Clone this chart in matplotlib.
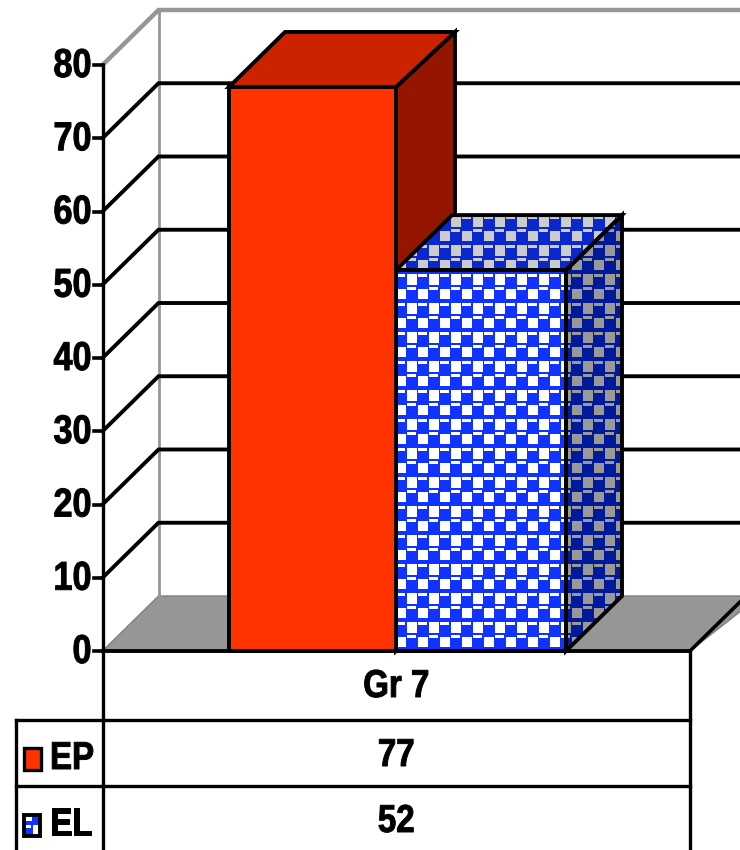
import numpy as np
import matplotlib
matplotlib.use('Agg')
import matplotlib.pyplot as plt
from matplotlib.colors import to_rgb
from matplotlib.patches import Polygon, Rectangle
from matplotlib.patheffects import AbstractPathEffect
from matplotlib.transforms import Affine2D

category = 'Gr 7'
series = ['EP', 'EL']
values = [77, 52]
yticks = [0, 10, 20, 30, 40, 50, 60, 70, 80]

RED = '#ff3300'
BLUE = '#1033ff'
FONT = 'Liberation Sans'

# chart is laid out in pixels, y values go through val_y
Y0, PX_PER_UNIT = 651, 7.325
DX, DY = 56, 55
AX_X = 102.5
BACK_X = AX_X + DX
FLOOR_R = 690

class Narrow(AbstractPathEffect):
    # squeeze text sideways around its anchor and thicken it, no narrow font is installed
    def __init__(self, x, sx=0.85, stroke=0.7):
        super().__init__()
        self.x = x
        self.sx = sx
        self.stroke = stroke

    def draw_path(self, renderer, gc, tpath, affine, rgbFace):
        squeeze = Affine2D().translate(-self.x, 0).scale(self.sx, 1).translate(self.x, 0)
        gc0 = renderer.new_gc()
        gc0.copy_properties(gc)
        gc0.set_linewidth(self.stroke)
        gc0.set_foreground('black')
        renderer.draw_path(gc0, tpath, affine + squeeze, rgbFace)
        gc0.restore()

def label(ax, x, y, s, ha, size=28):
    ax.text(x, y, s, ha=ha, va='center', fontsize=size, fontweight='bold', family=FONT,
            zorder=6, path_effects=[Narrow(x)])

def val_y(v):
    return Y0 - v * PX_PER_UNIT

def poly(ax, pts, fc, ec='black', lw=2.8, z=3):
    ax.add_patch(Polygon(pts, closed=True, fc=fc, ec=ec, lw=lw, joinstyle='miter', zorder=z))

def checker(fg, bg):
    # 22x29 pixel tile, same as the office-style "large checker" fill
    t = np.zeros((29, 22, 3))
    t[:] = to_rgb(fg)
    b = to_rgb(bg)
    t[2:13, 11:21] = b
    t[15:18, 11:20] = b
    t[17:27, 0:10] = b
    t[2:5, 0:9] = b
    t = np.roll(t, 11, axis=0)
    return np.tile(t, (34, 44, 1))

def pattern(ax, pts, fg, bg, z=3):
    p = Polygon(pts, closed=True, fc='none', ec='black', lw=2.8, joinstyle='miter', zorder=z + 0.1)
    ax.add_patch(p)
    arr = checker(fg, bg)
    im = ax.imshow(arr, extent=(0, arr.shape[1], arr.shape[0], 0), interpolation='nearest', zorder=z, aspect='auto')
    im.set_clip_path(p)

fig = plt.figure(figsize=(7.4, 8.5), dpi=100)
ax = fig.add_axes([0, 0, 1, 1])

# back wall, floor
top = val_y(80)
poly(ax, [(AX_X, Y0), (BACK_X, Y0 - DY), (760, Y0 - DY), (FLOOR_R, Y0)], '#969696', ec='#808080', lw=1, z=1)
ax.plot([BACK_X, BACK_X], [top - DY, Y0 - DY], color='#969696', lw=2, zorder=1)
ax.plot([AX_X, BACK_X, 740], [top, top - DY, top - DY], color='#969696', lw=3.2, zorder=1, solid_joinstyle='miter')

# gridlines
for v in yticks[1:-1]:
    y = val_y(v)
    ax.plot([AX_X, BACK_X, 740], [y, y - DY, y - DY], color='black', lw=2.8, zorder=2, solid_joinstyle='miter')

# y axis
ax.plot([AX_X, AX_X], [top, 850], color='black', lw=2.4, zorder=5)
for v in yticks:
    y = val_y(v)
    ax.plot([AX_X - 9, AX_X], [y, y], color='black', lw=2.6, zorder=5)
    label(ax, AX_X - 11, y + 1, str(v), 'right', size=29)

# bars, the EP front stays on top, EL hides the lower part of the EP side
lefts = [229, 396]
rights = [396, 566]
back_rights = [455, 622]
for i in [1, 0]:
    l, r, t = lefts[i], rights[i], val_y(values[i])
    br = back_rights[i]
    front = [(l, Y0), (l, t), (r, t), (r, Y0)]
    topf = [(l, t), (l + DX, t - DY), (br, t - DY), (r, t)]
    side = [(r, t), (br, t - DY), (br, Y0 - DY), (r, Y0)]
    if i == 0:
        poly(ax, side, '#951600', z=3)
        poly(ax, topf, '#cc2200', z=3)
        poly(ax, front, RED, z=3.5)
    else:
        pattern(ax, side, '#001a99', '#999999', z=3.2)
        pattern(ax, topf, '#0a28cc', '#cccccc', z=3.2)
        pattern(ax, front, BLUE, 'white', z=3.2)

ax.plot([AX_X, FLOOR_R], [Y0, Y0], color='black', lw=2.8, zorder=5)
ax.plot([FLOOR_R, FLOOR_R + 52], [Y0, Y0 - 51], color='black', lw=2.6, zorder=2)

# data table
rows = [720, 786]
ax.plot([FLOOR_R, FLOOR_R], [Y0, 850], color='black', lw=2.4, zorder=5)
ax.plot([16, 16], [rows[0], 850], color='black', lw=2.4, zorder=5)
for y in rows:
    ax.plot([16, FLOOR_R], [y, y], color='black', lw=2.4, zorder=5)

cx = (AX_X + FLOOR_R) / 2
label(ax, cx, 687, category, 'center')
for i in range(2):
    yc = rows[i] + 35
    label(ax, cx, yc + 1, str(values[i]), 'center')
    label(ax, 50, yc + 4, series[i], 'left')

# legend keys
ax.add_patch(Rectangle((24, 748), 17, 22, fc=RED, ec='black', lw=2.4, zorder=6))
pattern(ax, [(24, 815), (24, 836), (40, 836), (40, 815)], BLUE, 'white', z=6)

ax.set_xlim(0, 740)
ax.set_ylim(850, 0)
ax.axis('off')
fig.savefig('out.png', dpi=100)
